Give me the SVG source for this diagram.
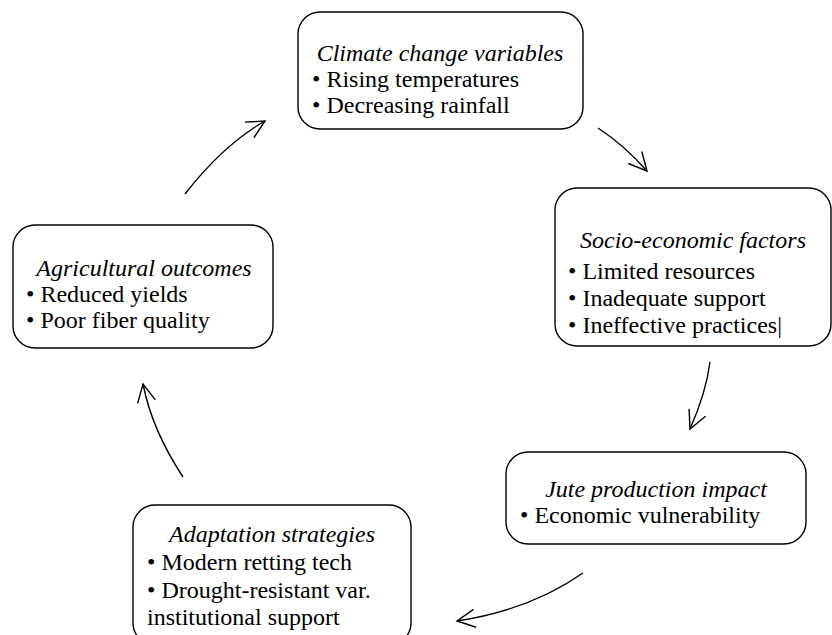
<svg xmlns="http://www.w3.org/2000/svg" width="832" height="635" viewBox="0 0 832 635">
<defs>
<style>
.box{fill:#fff;stroke:#000;stroke-width:1.4}
.t{font-family:'Liberation Serif','Times New Roman',serif;font-size:24px;fill:#000}
.h{font-style:italic;text-anchor:middle}
.c{fill:none;stroke:#000;stroke-width:1.4}
</style>
<marker id="ah" markerUnits="userSpaceOnUse" markerWidth="30" markerHeight="30" refX="0" refY="0" viewBox="-20 -15 30 30" orient="auto" overflow="visible">
<path d="M-18,-9 L0,0 L-18,9" fill="none" stroke="#000" stroke-width="1.4"/>
</marker>
</defs>
<rect width="832" height="635" fill="#fff"/>
<g id="connectors">
<path class="c" d="M598,128 Q624,145 647,171" marker-end="url(#ah)"/>
<path class="c" d="M710,362 Q706,393 690,429" marker-end="url(#ah)"/>
<path class="c" d="M583,573 Q530,610 457,621" marker-end="url(#ah)"/>
<path class="c" d="M183,477 Q152,430 143,384" marker-end="url(#ah)"/>
<path class="c" d="M185,194 Q223,145 265,121" marker-end="url(#ah)"/>
</g>
<g id="climate">
<rect class="box" x="298" y="12" width="285" height="117" rx="22"/>
<text class="t h" x="440" y="61">Climate change variables</text>
<text class="t" x="312" y="87">• Rising temperatures</text>
<text class="t" x="312" y="113">• Decreasing rainfall</text>
</g>
<g id="socio">
<rect class="box" x="555" y="188" width="276" height="158" rx="22"/>
<text class="t h" x="693" y="248">Socio-economic factors</text>
<text class="t" x="568" y="279">• Limited resources</text>
<text class="t" x="568" y="306">• Inadequate support</text>
<text class="t" x="568" y="333">• Ineffective practices|</text>
</g>
<g id="agri">
<rect class="box" x="13" y="225" width="260" height="123" rx="22"/>
<text class="t h" x="144" y="276">Agricultural outcomes</text>
<text class="t" x="26" y="302">• Reduced yields</text>
<text class="t" x="26" y="328">• Poor fiber quality</text>
</g>
<g id="jute">
<rect class="box" x="506" y="452" width="300" height="92" rx="22"/>
<text class="t h" x="656" y="497">Jute production impact</text>
<text class="t" x="520" y="523">• Economic vulnerability</text>
</g>
<g id="adapt">
<rect class="box" x="133" y="505" width="278" height="140" rx="22"/>
<text class="t h" x="272" y="542">Adaptation strategies</text>
<text class="t" x="147" y="570">• Modern retting tech</text>
<text class="t" x="147" y="598">• Drought-resistant var.</text>
<text class="t" x="147" y="625">institutional support</text>
</g>
</svg>
